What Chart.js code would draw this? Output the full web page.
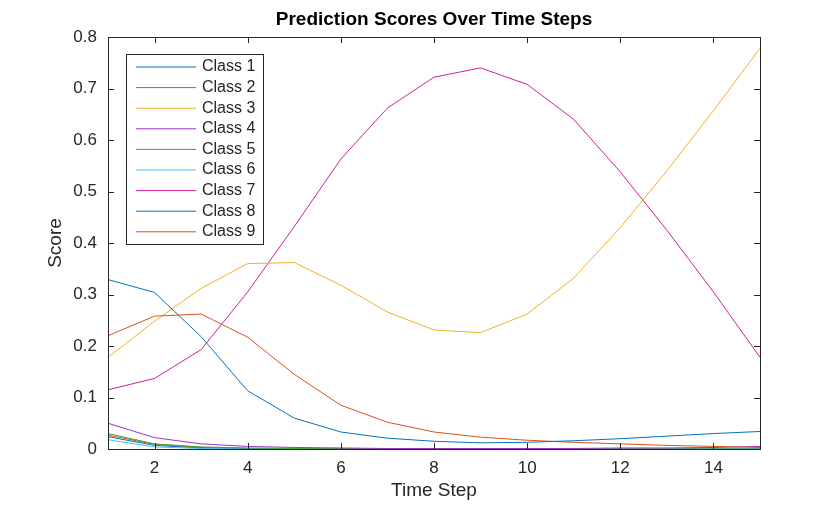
<!DOCTYPE html>
<html><head><meta charset="utf-8">
<script src="https://cdn.jsdelivr.net/npm/chart.js@4"></script>
<style>body{margin:0;background:#fff}#w{width:840px;height:506px}</style></head>
<body><div id="w"><canvas id="c"></canvas></div>
<script>
const timeSteps=[1,2,3,4,5,6,7,8,9,10,11,12,13,14,15];
const labels=['Class 1','Class 2','Class 3','Class 4','Class 5','Class 6','Class 7','Class 8','Class 9'];
const colors=['#0072BD','#D95319','#EDB120','#9b34c8','#3fa52e','#4DBEEE','#d0209a','#0072BD','#D95319'];
const c1=[0.329,0.304,0.218,0.113,0.060,0.033,0.021,0.015,0.012,0.013,0.016,0.020,0.025,0.030,0.034];
const c2=[0.220,0.258,0.262,0.217,0.145,0.085,0.052,0.033,0.023,0.017,0.013,0.010,0.007,0.005,0.003];
const c3=[0.178,0.248,0.312,0.360,0.362,0.318,0.266,0.231,0.226,0.262,0.332,0.430,0.540,0.657,0.778];
const c4=[0.050,0.022,0.010,0.005,0.003,0.002,0.001,0.001,0.001,0.001,0.001,0.002,0.002,0.003,0.005];
const c5=[0.030,0.010,0.004,0.002,0.001,0.001,0.000,0.000,0.000,0.000,0.000,0.000,0.000,0.000,0.000];
const c6=[0.018,0.004,0.001,0.000,0.000,0.000,0.000,0.000,0.000,0.000,0.000,0.000,0.000,0.000,0.000];
const c7=[0.115,0.137,0.193,0.305,0.432,0.563,0.662,0.722,0.740,0.708,0.640,0.538,0.425,0.305,0.178];
const c8=[0.024,0.007,0.002,0.001,0.000,0.000,0.000,0.000,0.000,0.000,0.000,0.000,0.000,0.000,0.000];
const c9=[0.027,0.009,0.003,0.001,0.000,0.000,0.000,0.000,0.000,0.000,0.000,0.000,0.000,0.000,0.000];
const series=[c1,c2,c3,c4,c5,c6,c7,c8,c9];
const xTicks=[2,4,6,8,10,12,14];
const F='"Liberation Sans", Arial, sans-serif';
const deco={id:'deco',afterDraw(ch){
 const g=ch.ctx,a=ch.chartArea,xs=ch.scales.x,ys=ch.scales.y;
 g.save();g.strokeStyle='#262626';g.lineWidth=1;
 g.strokeRect(a.left+0.5,a.top+0.5,a.right-a.left,a.bottom-a.top);
 g.beginPath();
 xTicks.forEach(v=>{const p=Math.round(xs.getPixelForValue(v))+0.5;g.moveTo(p,a.bottom);g.lineTo(p,a.bottom-6);g.moveTo(p,a.top);g.lineTo(p,a.top+6);});
 for(let v=0;v<=0.8001;v+=0.1){const p=Math.round(ys.getPixelForValue(v))+0.5;g.moveTo(a.left,p);g.lineTo(a.left+6,p);g.moveTo(a.right,p);g.lineTo(a.right-6,p);}
 g.stroke();
 g.fillStyle='#000';g.font='bold 19px '+F;g.textAlign='center';g.textBaseline='middle';
 g.fillText('Prediction Scores Over Time Steps',(a.left+a.right)/2,20);
 const lx=126,ly=54,lw=137,lh=190;
 g.fillStyle='#fff';g.fillRect(lx,ly,lw,lh);g.strokeStyle='#262626';g.strokeRect(lx+0.5,ly+0.5,lw,lh);
 g.font='16px '+F;g.textAlign='left';
 ch.data.datasets.forEach((d,i)=>{const y=ly+13+i*20.6;g.strokeStyle=d.borderColor;g.beginPath();g.moveTo(lx+10,y);g.lineTo(lx+70,y);g.stroke();g.fillStyle='#262626';g.fillText(d.label,lx+76,y);});
 g.restore();}};
new Chart(document.getElementById('c'),{type:'line',
 data:{datasets:series.map((s,i)=>({label:labels[i],data:s.map((v,j)=>({x:timeSteps[j],y:v})),borderColor:colors[i],borderWidth:1,pointRadius:0,tension:0,fill:false}))},
 options:{responsive:true,maintainAspectRatio:false,animation:false,
  layout:{padding:{left:40,right:80,top:37,bottom:0}},
  plugins:{legend:{display:false},tooltip:{enabled:false}},
  scales:{
   x:{type:'linear',min:1,max:15,afterFit(s){s.height=57;},afterBuildTicks(s){s.ticks=xTicks.map(v=>({value:v}));},
      grid:{display:false},border:{display:false},
      ticks:{color:'#262626',font:{size:17,family:F},padding:1},
      title:{display:true,text:'Time Step',color:'#262626',font:{size:19,family:F},padding:{top:0}}},
   y:{min:0,max:0.8,afterFit(s){s.width=68;},grid:{display:false},border:{display:false},
      ticks:{stepSize:0.1,color:'#262626',font:{size:17,family:F},callback:v=>Math.round(v*10)/10===0?'0':(Math.round(v*10)/10).toString()},
      title:{display:true,text:'Score',color:'#262626',font:{size:19,family:F},padding:{bottom:2}}}}},
 plugins:[deco]});
</script></body></html>
